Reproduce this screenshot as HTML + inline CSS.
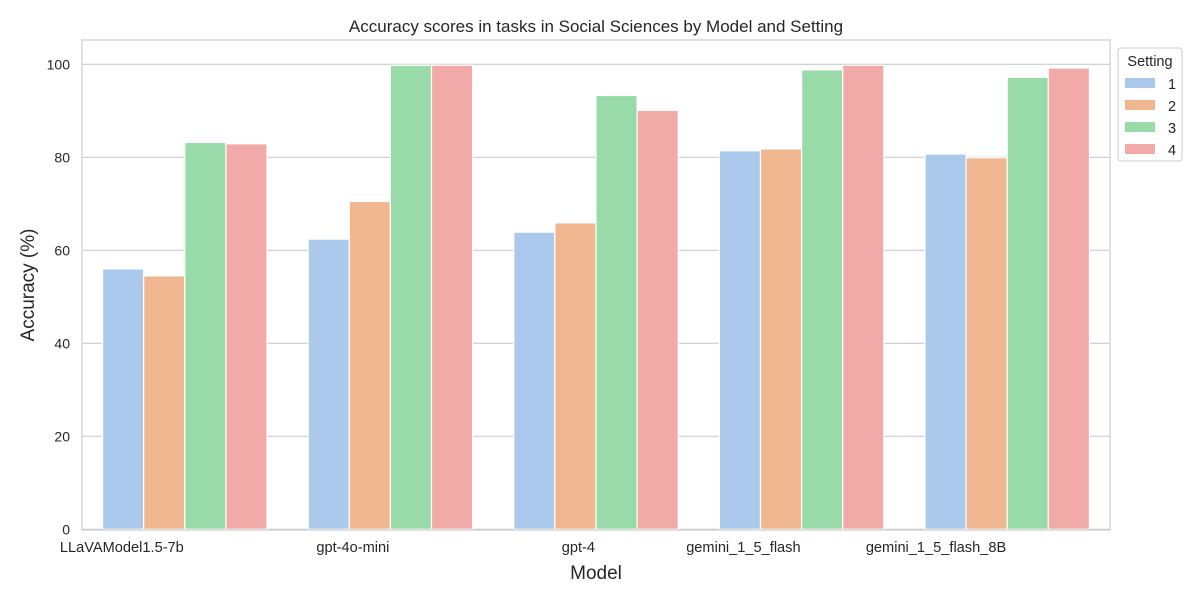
<!DOCTYPE html>
<html><head><meta charset="utf-8"><style>
body{margin:0;background:#fff;font-family:"Liberation Sans","DejaVu Sans",sans-serif;}
svg text{font-family:"Liberation Sans","DejaVu Sans",sans-serif;fill:#262626;}
</style></head><body>
<svg id="chart" width="1200" height="600" xmlns="http://www.w3.org/2000/svg">
<rect x="0" y="0" width="1200" height="600" fill="#fff"/>
<text x="596" y="32" font-size="17" text-anchor="middle">Accuracy scores in tasks in Social Sciences by Model and Setting</text>
<g id="grid"></g>
<g id="bars"></g>
<rect x="82" y="40" width="1028" height="490" fill="none" stroke="#ccc" stroke-width="1.2"/>
<g id="yticks"></g>
<g id="xticks"></g>
<text x="34" y="285" font-size="19" text-anchor="middle" transform="rotate(-90 34 285)">Accuracy (%)</text>
<text x="596" y="579" font-size="19" text-anchor="middle">Model</text>
<g id="legend"></g>
</svg>
<script>
const categories = ["LLaVAModel1.5-7b","gpt-4o-mini","gpt-4","gemini_1_5_flash","gemini_1_5_flash_8B"];
const settings = ["1","2","3","4"];
const s1 = [56.0,62.4,63.9,81.4,80.7];
const s2 = [54.5,70.5,65.9,81.8,79.9];
const s3 = [83.2,99.8,93.3,98.8,97.2];
const s4 = [82.9,99.8,90.1,99.8,99.2];
const yTicks = [0,20,40,60,80,100];
const series = [s1,s2,s3,s4];
const colors = ["#abc9ed","#f0b690","#99dba8","#f2aaa9"];
const NS="http://www.w3.org/2000/svg";
const L=82,R=1110,T=40,B=530,Y0=529.3,PX=4.65;
const yScale=v=>Y0-v*PX;
const gw=(R-L)/categories.length;
const xCenter=i=>L+gw*(i+0.5);
const bw=gw*0.8/settings.length;
function mk(tag,attrs,parent){const e=document.createElementNS(NS,tag);for(const k in attrs)e.setAttribute(k,attrs[k]);parent.appendChild(e);return e;}
const grid=document.getElementById('grid'),yt=document.getElementById('yticks');
yTicks.forEach(v=>{
  const y=yScale(v);
  const l=mk('line',{x1:L,x2:R,y1:y,y2:y,stroke:'#cccccc','stroke-width':1.2},grid);
  
  
  const t=mk('text',{x:L-12,y:y+5,'font-size':14,'text-anchor':'end'},yt);
  t.textContent=v;
  
  
});
const bars=document.getElementById('bars'),xt=document.getElementById('xticks');
categories.forEach((c,i)=>{
  series.forEach((s,j)=>{
    const x=xCenter(i)-gw*0.4+j*bw;
    const y=yScale(s[i]);
    const r=mk('rect',{x:x,y:y,width:bw,height:Y0-y,fill:colors[j],stroke:'#fff','stroke-width':1.2},bars);
    
    
  });
  const t=mk('text',{x:xCenter(i)-1,y:552,'font-size':14.6,'text-anchor':'end'},xt);
  t.textContent=c;
  
  
});
const lg=document.getElementById('legend');
mk('rect',{x:1118,y:48,width:64,height:113,rx:3,fill:'#fff',stroke:'#ccc','stroke-width':1},lg);
const lt=mk('text',{x:1150,y:66,'font-size':14.5,'text-anchor':'middle'},lg);
lt.textContent='Setting';


settings.forEach((s,j)=>{
  const y=78+j*22;
  const g=mk('g',{},lg);
  
  
  mk('rect',{x:1125,y:y,width:30,height:10,fill:colors[j]},g);
  const t=mk('text',{x:1172,y:y+11,'font-size':14.5,'text-anchor':'middle'},g);
  t.textContent=s;
});
</script>
</body></html>
